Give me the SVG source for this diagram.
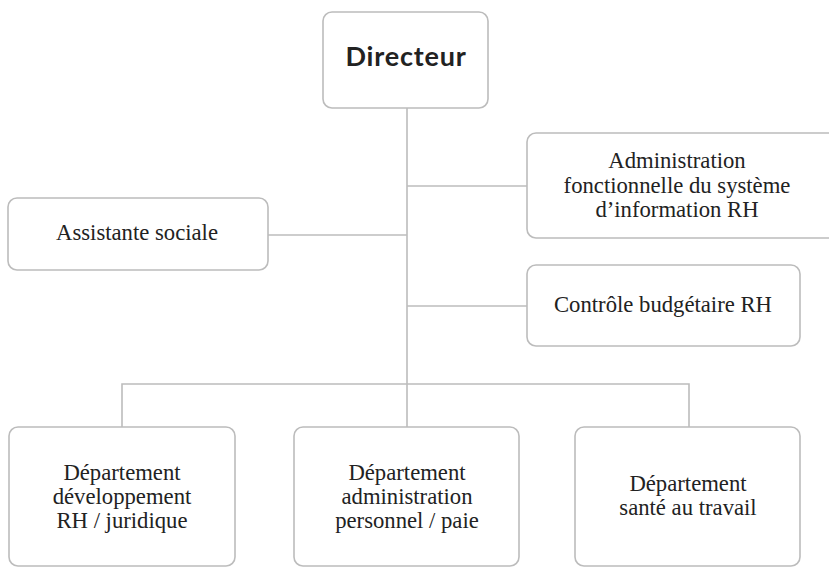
<svg xmlns="http://www.w3.org/2000/svg" width="829" height="567" viewBox="0 0 829 567">
<style>
.box{fill:#fff;stroke:#bcbcbc;stroke-width:1.6}
.ln{stroke:#bcbcbc;stroke-width:1.6;fill:none}
.t{font-family:'Liberation Serif','DejaVu Serif',serif;font-size:22.7px;fill:#222;text-anchor:middle}
.h{font-family:Lato,'Liberation Sans',sans-serif;font-weight:700;font-size:27px;letter-spacing:0.8px;fill:#222;text-anchor:middle}
</style>
<rect width="829" height="567" fill="#fff"/>
<g id="connectors">
<path class="ln" d="M407 108V427"/>
<path class="ln" d="M407 186H527"/>
<path class="ln" d="M268 235H407"/>
<path class="ln" d="M407 306H527"/>
<path class="ln" d="M122 427V384H689V427"/>
</g>
<g id="directeur">
<rect class="box" x="323" y="12" width="165" height="96" rx="9"/>
<text class="h" x="406" y="66">Directeur</text>
</g>
<g id="admin-si">
<rect class="box" x="527" y="133" width="312" height="105" rx="9"/>
<text class="t" x="677" y="168">Administration</text>
<text class="t" x="677" y="193">fonctionnelle du système</text>
<text class="t" x="677" y="217">d’information RH</text>
</g>
<g id="assistante">
<rect class="box" x="8" y="198" width="260" height="72" rx="9"/>
<text class="t" x="137" y="240">Assistante sociale</text>
</g>
<g id="controle">
<rect class="box" x="527" y="265" width="273" height="81" rx="9"/>
<text class="t" x="663" y="312">Contrôle budgétaire RH</text>
</g>
<g id="dept-dev">
<rect class="box" x="9" y="427" width="226" height="139" rx="9"/>
<text class="t" x="122" y="480">Département</text>
<text class="t" x="122" y="504">développement</text>
<text class="t" x="122" y="528">RH / juridique</text>
</g>
<g id="dept-admin">
<rect class="box" x="294" y="427" width="225" height="139" rx="9"/>
<text class="t" x="407" y="480">Département</text>
<text class="t" x="407" y="504">administration</text>
<text class="t" x="407" y="528">personnel / paie</text>
</g>
<g id="dept-sante">
<rect class="box" x="575" y="427" width="225" height="139" rx="9"/>
<text class="t" x="688" y="491">Département</text>
<text class="t" x="688" y="515">santé au travail</text>
</g>
</svg>
